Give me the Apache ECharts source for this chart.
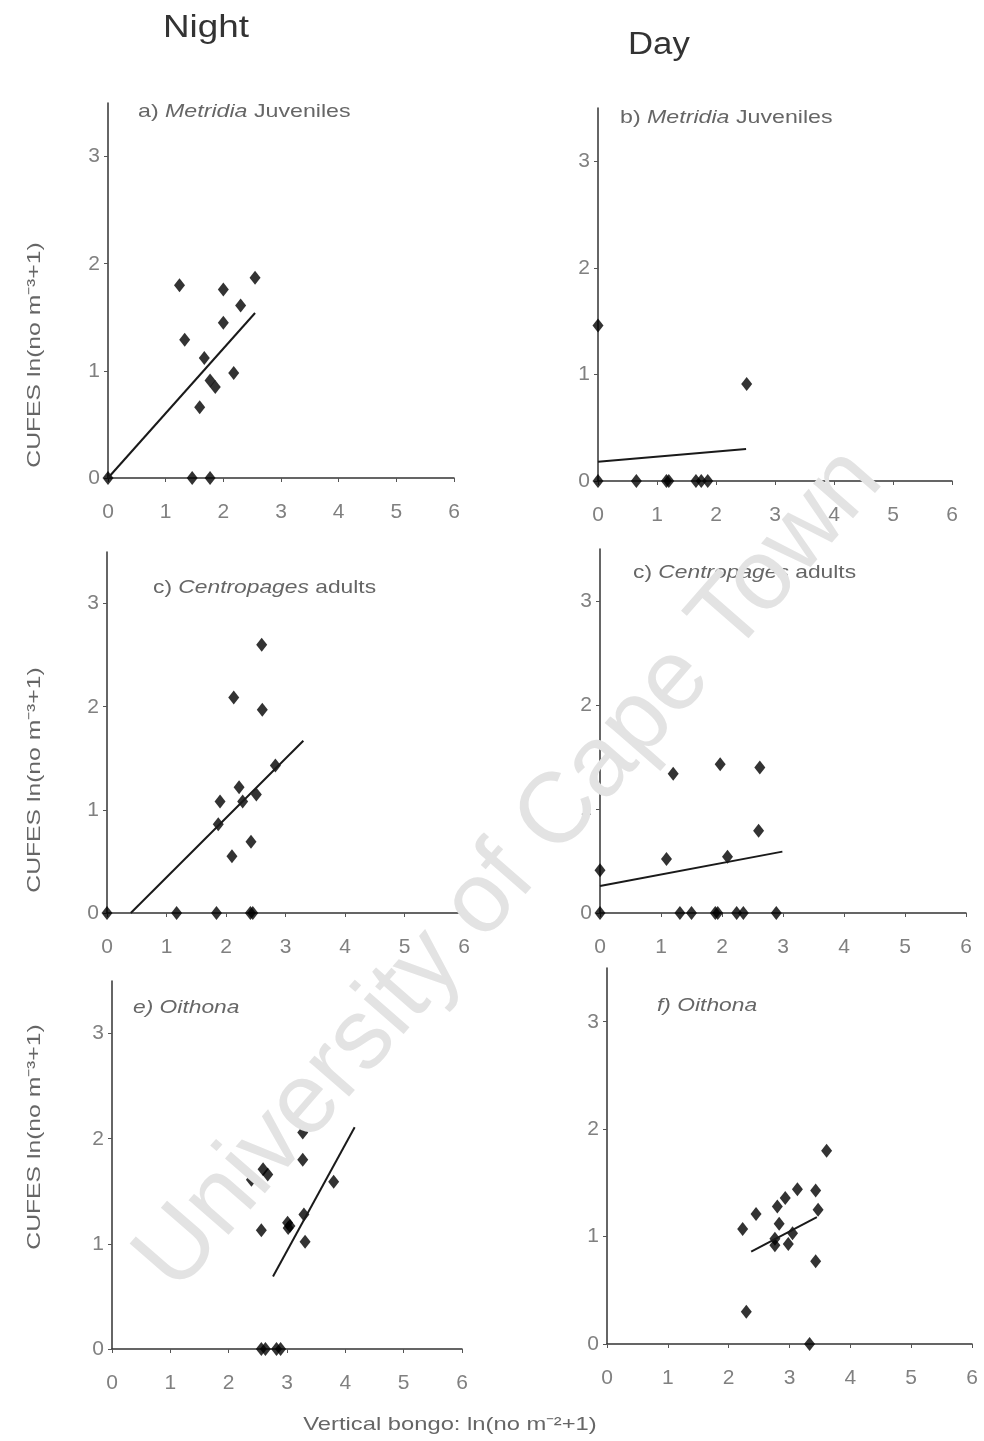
<!DOCTYPE html>
<html>
<head>
<meta charset="utf-8">
<script src="https://cdn.jsdelivr.net/npm/echarts@6/dist/echarts.min.js"></script>
<style>html,body{margin:0;background:#fff}#main{width:984px;height:1441px}</style>
</head>
<body>
<div id="main"></div>
<script>
var xTicks = [0, 1, 2, 3, 4, 5, 6];
var yTicks = [0, 1, 2, 3];

// a) night, Metridia juveniles
var aX = [1.24, 1.33, 1.67, 1.59, 1.77, 1.86, 2.0, 2.0, 2.18, 2.30, 2.55, 0, 1.46, 1.77];
var aY = [1.80, 1.29, 1.12, 0.66, 0.91, 0.85, 1.76, 1.45, 0.98, 1.61, 1.87, 0, 0, 0];
var aFitX = [0, 2.55], aFitY = [0, 1.54];

// b) day, Metridia juveniles
var bX = [0, 2.52, 0, 0.65, 1.16, 1.20, 1.66, 1.75, 1.86];
var bY = [1.46, 0.91, 0, 0, 0, 0, 0, 0, 0];
var bFitX = [0, 2.51], bFitY = [0.18, 0.30];

// c) night, Centropages adults
var cX = [2.60, 2.13, 2.61, 2.83, 2.22, 1.90, 2.28, 2.51, 1.87, 2.42, 2.10, 0, 1.17, 1.84, 2.41, 2.45];
var cY = [2.60, 2.09, 1.97, 1.43, 1.22, 1.08, 1.08, 1.15, 0.86, 0.69, 0.55, 0, 0, 0, 0, 0];
var cFitX = [0.40, 3.30], cFitY = [0, 1.67];

// d) day, Centropages adults (labelled c in the figure)
var dX = [1.20, 1.97, 2.62, 2.60, 1.09, 2.09, 0, 0, 1.31, 1.50, 1.89, 1.93, 2.24, 2.35, 2.89];
var dY = [1.34, 1.43, 1.40, 0.79, 0.52, 0.54, 0.41, 0, 0, 0, 0, 0, 0, 0, 0];
var dFitX = [0, 2.99], dFitY = [0.26, 0.59];

// e) night, Oithona
var eX = [3.27, 3.27, 2.39, 2.59, 2.67, 3.80, 3.29, 2.56, 3.01, 3.05, 3.02, 3.31, 2.56, 2.63, 2.82, 2.89];
var eY = [2.06, 1.80, 1.61, 1.71, 1.66, 1.59, 1.28, 1.13, 1.20, 1.17, 1.15, 1.02, 0, 0, 0, 0];
var eFitX = [2.76, 4.16], eFitY = [0.69, 2.11];

// f) day, Oithona
var fX = [3.61, 3.13, 3.43, 2.93, 2.80, 2.45, 3.47, 2.83, 2.23, 2.76, 3.05, 2.76, 2.98, 3.43, 2.29, 3.33];
var fY = [1.80, 1.44, 1.43, 1.36, 1.28, 1.21, 1.25, 1.12, 1.07, 0.98, 1.03, 0.92, 0.93, 0.77, 0.30, 0];
var fFitX = [2.37, 3.45], fFitY = [0.86, 1.18];

var panels = [
    {x: aX, y: aY, fx: aFitX, fy: aFitY, grid: {left: 108, top: 103, width: 346, height: 375}},
    {x: bX, y: bY, fx: bFitX, fy: bFitY, grid: {left: 598, top: 108, width: 354, height: 373}},
    {x: cX, y: cY, fx: cFitX, fy: cFitY, grid: {left: 107, top: 552, width: 357, height: 361}},
    {x: dX, y: dY, fx: dFitX, fy: dFitY, grid: {left: 600, top: 549, width: 366, height: 364}},
    {x: eX, y: eY, fx: eFitX, fy: eFitY, grid: {left: 112, top: 981, width: 350, height: 368}},
    {x: fX, y: fY, fx: fFitX, fy: fFitY, grid: {left: 607, top: 968, width: 365, height: 376}}
];

var font = 'Liberation Sans, Arial, sans-serif';
var grids = [], xAxes = [], yAxes = [], series = [];

function pairs(xs, ys) {
    return xs.map(function (v, i) { return [v, ys[i]]; });
}

panels.forEach(function (p, i) {
    grids.push(p.grid);
    xAxes.push({
        type: 'value', gridIndex: i, min: 0, max: 6, interval: 1,
        axisLine: {onZero: false, lineStyle: {color: '#333', width: 1.5}},
        axisTick: {length: 4, lineStyle: {color: '#555'}},
        axisLabel: {margin: 24, color: '#808080', fontSize: 21, fontFamily: font},
        splitLine: {show: false}
    });
    yAxes.push({
        type: 'value', gridIndex: i, min: 0, max: 3.5, interval: 1,
        axisLine: {show: true, onZero: false, lineStyle: {color: '#333', width: 1.5}},
        axisTick: {show: true, length: 4, customValues: yTicks, lineStyle: {color: '#555'}},
        axisLabel: {margin: 8, color: '#808080', fontSize: 21, fontFamily: font, customValues: yTicks},
        splitLine: {show: false}
    });
    series.push({
        type: 'scatter', xAxisIndex: i, yAxisIndex: i, clip: false,
        symbol: 'diamond', symbolSize: [11, 14],
        itemStyle: {color: '#000'},
        data: pairs(p.x, p.y)
    });
    series.push({
        type: 'line', xAxisIndex: i, yAxisIndex: i, showSymbol: false,
        lineStyle: {color: '#1a1a1a', width: 2},
        data: pairs(p.fx, p.fy)
    });
});

function label(x, y, text, size, sx, rich, extra) {
    var el = {
        type: 'text', x: x, y: y, scaleX: sx, z: 50,
        style: {text: text, fontSize: size, fill: '#666', fontFamily: font, align: 'left', verticalAlign: 'middle', rich: rich}
    };
    if (extra) Object.assign(el, extra);
    return el;
}

var tRich = {
    n: {fontSize: 19, fill: '#666', fontFamily: font},
    i: {fontSize: 19, fill: '#666', fontFamily: font, fontStyle: 'italic'}
};

var yTitle = 'CUFES ln(no m\u207B\u00B3+1)';

var graphics = [
    label(163, 28, 'Night', 32, 1.15, null, {style: {text: 'Night', fontSize: 32, fill: '#333', fontFamily: font, align: 'left', verticalAlign: 'middle'}}),
    label(628, 45, 'Day', 31, 1.12, null, {style: {text: 'Day', fontSize: 31, fill: '#333', fontFamily: font, align: 'left', verticalAlign: 'middle'}}),
    label(138, 112, '{n|a) }{i|Metridia}{n| Juveniles}', 19, 1.22, tRich),
    label(620, 118, '{n|b) }{i|Metridia}{n| Juveniles}', 19, 1.22, tRich),
    label(153, 588, '{n|c) }{i|Centropages}{n| adults}', 19, 1.2, tRich),
    label(633, 573, '{n|c) }{i|Centropages}{n| adults}', 19, 1.2, tRich),
    label(133, 1008, '{i|e) Oithona}', 19, 1.2, tRich),
    label(657, 1006, '{i|f) Oithona}', 19, 1.2, tRich),
    label(450, 1425, 'Vertical bongo: ln(no m\u207B\u00B2+1)', 19, 1.25, null, {style: {text: 'Vertical bongo: ln(no m\u207B\u00B2+1)', fontSize: 19, fill: '#666', fontFamily: font, align: 'center', verticalAlign: 'middle'}})
];

[355, 780, 1137].forEach(function (cy) {
    graphics.push({
        type: 'text', x: 35, y: cy, rotation: Math.PI / 2, scaleX: 1.3, z: 50,
        style: {text: yTitle, fontSize: 19, fill: '#666', fontFamily: font, align: 'center', verticalAlign: 'middle'}
    });
});

// watermark across the page
graphics.push({
    type: 'text', x: 510, y: 870, rotation: 0.854, z: 100,
    style: {text: 'University of Cape Town', fontSize: 100, fill: '#e3e3e3', fontFamily: font, align: 'center', verticalAlign: 'middle'}
});

var chart = echarts.init(document.getElementById('main'));
chart.setOption({
    backgroundColor: '#fff',
    animation: false,
    grid: grids,
    xAxis: xAxes,
    yAxis: yAxes,
    series: series,
    graphic: {elements: graphics}
});
</script>
</body>
</html>
